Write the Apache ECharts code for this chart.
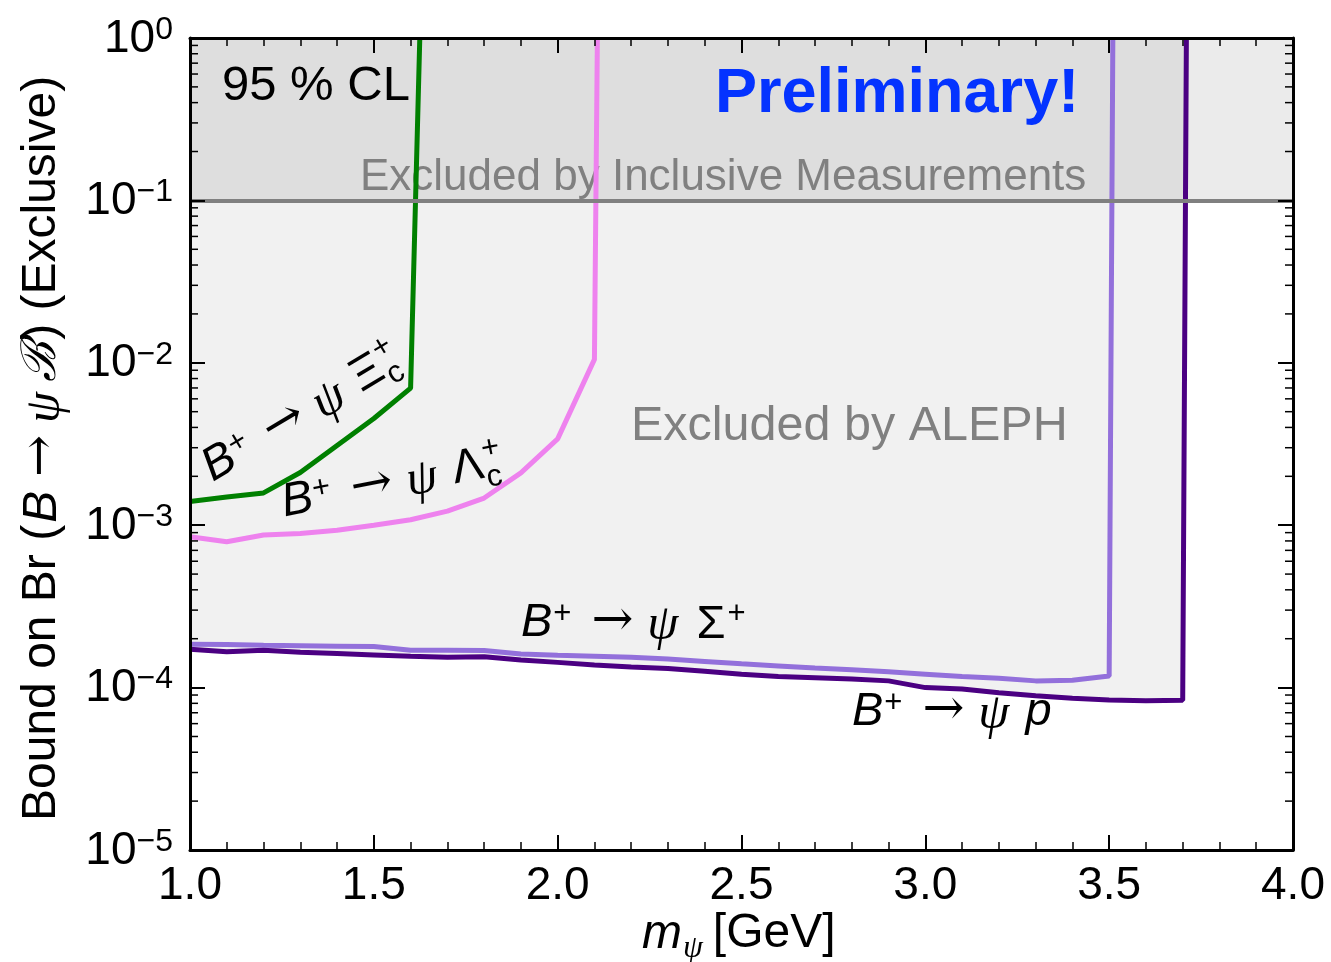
<!DOCTYPE html>
<html>
<head>
<meta charset="utf-8">
<script src="https://cdn.jsdelivr.net/npm/echarts@6/dist/echarts.min.js"></script>
<style>
  html, body { margin: 0; padding: 0; background: #ffffff; }
  #chart { width: 1331px; height: 962px; }
</style>
</head>
<body>
<div id="chart"></div>
<script>
// Exclusion bounds on Br(B+ -> psi + baryon), 95% CL, versus dark-fermion mass m_psi [GeV]

// B+ -> psi Xi_c+
const MASS_XI = [1.0, 1.1, 1.2, 1.3, 1.4, 1.5, 1.6, 1.625];
const BOUND_XI = [1.40e-3, 1.49e-3, 1.58e-3, 2.11e-3, 3.10e-3, 4.54e-3, 6.98e-3, 1.0];

// B+ -> psi Lambda_c+
const MASS_LAMBDA = [1.0, 1.1, 1.2, 1.3, 1.4, 1.5, 1.6, 1.7, 1.8, 1.9, 2.0, 2.1, 2.108];
const BOUND_LAMBDA = [8.5e-4, 7.9e-4, 8.7e-4, 8.9e-4, 9.3e-4, 1.0e-3, 1.08e-3, 1.22e-3, 1.47e-3, 2.1e-3, 3.4e-3, 1.05e-2, 1.0];

// B+ -> psi Sigma+
const MASS_SIGMA = [1.0, 1.1, 1.2, 1.3, 1.4, 1.5, 1.6, 1.7, 1.8, 1.9, 2.0, 2.1, 2.2, 2.3, 2.4, 2.5, 2.6, 2.7, 2.8, 2.9, 3.0, 3.1, 3.2, 3.3, 3.4, 3.5, 3.51];
const BOUND_SIGMA = [1.85e-4, 1.84e-4, 1.82e-4, 1.81e-4, 1.80e-4, 1.79e-4, 1.70e-4, 1.70e-4, 1.69e-4, 1.61e-4, 1.58e-4, 1.56e-4, 1.54e-4, 1.50e-4, 1.45e-4, 1.40e-4, 1.36e-4, 1.32e-4, 1.29e-4, 1.25e-4, 1.21e-4, 1.17e-4, 1.14e-4, 1.10e-4, 1.11e-4, 1.18e-4, 1.0];

// B+ -> psi p
const MASS_PROTON = [1.0, 1.1, 1.2, 1.3, 1.4, 1.5, 1.6, 1.7, 1.8, 1.9, 2.0, 2.1, 2.2, 2.3, 2.4, 2.5, 2.6, 2.7, 2.8, 2.9, 3.0, 3.1, 3.2, 3.3, 3.4, 3.5, 3.6, 3.7, 3.71];
const BOUND_PROTON = [1.72e-4, 1.66e-4, 1.70e-4, 1.65e-4, 1.62e-4, 1.59e-4, 1.56e-4, 1.54e-4, 1.55e-4, 1.48e-4, 1.43e-4, 1.38e-4, 1.34e-4, 1.31e-4, 1.26e-4, 1.21e-4, 1.17e-4, 1.15e-4, 1.13e-4, 1.10e-4, 1.00e-4, 9.8e-5, 9.3e-5, 8.9e-5, 8.6e-5, 8.4e-5, 8.3e-5, 8.35e-5, 1.0];

// inclusive-measurement limit
const INCLUSIVE_LIMIT = 0.1;

// axis ranges and ticks
const X_MIN = 1.0, X_MAX = 4.0, X_STEP = 0.5;
const Y_MIN = 1e-5, Y_MAX = 1;
const Y_DECADES = [1e-5, 1e-4, 1e-3, 1e-2, 1e-1];
const Y_MINOR_MANTISSAS = [2, 3, 4, 5, 6, 7, 8, 9];

const SANS = '"Liberation Sans", Arial, Helvetica, sans-serif';
const SERIF = '"Liberation Serif", "DejaVu Serif", serif';
const ARROW_FONT = '"DejaVu Serif", "DejaVu Sans", serif';
const BLACK = '#000000';
const GRAY = '#808080';
const SHADE = 'rgba(0,0,0,0.078)';

function pairs(xs, ys) { return xs.map((x, i) => [x, ys[i]]); }

function xAxisDef(pos, showLabel) {
  return {
    type: 'value', min: X_MIN, max: X_MAX, interval: X_STEP, position: pos, z: 5,
    axisLine: { show: true, onZero: false, lineStyle: { color: BLACK, width: 3 } },
    axisTick: { show: true, inside: true, length: 15, lineStyle: { color: BLACK, width: 2 } },
    minorTick: { show: true, splitNumber: 5, length: 8, lineStyle: { color: BLACK, width: 1.5 } },
    splitLine: { show: false },
    axisLabel: {
      show: showLabel, margin: 13, fontSize: 46, color: BLACK, fontFamily: SANS,
      formatter: v => v.toFixed(1)
    }
  };
}

function yAxisDef(pos, showLabel) {
  return {
    type: 'log', logBase: 10, min: Y_MIN, max: Y_MAX, splitNumber: 5, position: pos, z: 5,
    axisLine: { show: true, onZero: false, lineStyle: { color: BLACK, width: 3 } },
    axisTick: { show: true, inside: true, length: 15, lineStyle: { color: BLACK, width: 2 } },
    minorTick: { show: false },
    splitLine: { show: false },
    axisLabel: {
      show: showLabel, margin: 17, color: BLACK, fontFamily: SANS,
      formatter: v => {
        const e = Math.round(Math.log10(v));
        return '{b|10}{s|' + (e < 0 ? '\u2212' + (-e) : String(e)) + '}';
      },
      rich: {
        b: { fontSize: 46, fontFamily: SANS, color: BLACK, lineHeight: 48, verticalAlign: 'bottom' },
        s: { fontSize: 32, fontFamily: SANS, color: BLACK, lineHeight: 28, verticalAlign: 'top' }
      }
    }
  };
}

function curve(name, xs, ys, color) {
  return {
    name: name, type: 'line', data: pairs(xs, ys), z: 3,
    symbol: 'none', smooth: false, clip: true,
    lineStyle: { color: color, width: 5 }
  };
}

// log-axis minor ticks (2..9 within each decade) on the left and right frame
const minorTickValues = [];
Y_DECADES.forEach(d => Y_MINOR_MANTISSAS.forEach(m => minorTickValues.push([X_MIN, m * d])));

const minorTickSeries = {
  name: 'minor ticks', type: 'custom', coordinateSystem: 'cartesian2d', z: 6, silent: true,
  clip: false, data: minorTickValues,
  renderItem: function (params, api) {
    const v = api.value(1);
    const left = api.coord([X_MIN, v]);
    const right = api.coord([X_MAX, v]);
    const style = { stroke: BLACK, lineWidth: 1.5 };
    return {
      type: 'group', children: [
        { type: 'line', shape: { x1: left[0], y1: left[1], x2: left[0] + 8, y2: left[1] }, style: style },
        { type: 'line', shape: { x1: right[0], y1: right[1], x2: right[0] - 8, y2: right[1] }, style: style }
      ]
    };
  }
};

const chart = echarts.init(document.getElementById('chart'), null, { renderer: 'canvas' });

chart.setOption({
  animation: false,
  backgroundColor: '#ffffff',
  grid: { left: 190, right: 38, top: 38, bottom: 112 },
  xAxis: [xAxisDef('bottom', true), xAxisDef('top', false)],
  yAxis: [yAxisDef('left', true), yAxisDef('right', false)],
  series: [
    {
      // region excluded by ALEPH: everything above the B+ -> psi p bound
      name: 'ALEPH', type: 'line', data: pairs(MASS_PROTON, BOUND_PROTON), z: 1,
      symbol: 'none', silent: true,
      lineStyle: { width: 0, opacity: 0 },
      areaStyle: { color: SHADE, origin: 'end' },
      markArea: {
        silent: true,
        itemStyle: { color: SHADE },
        data: [[{ xAxis: X_MIN, yAxis: INCLUSIVE_LIMIT }, { xAxis: X_MAX, yAxis: Y_MAX }]]
      },
      markLine: {
        silent: true, symbol: 'none', label: { show: false },
        lineStyle: { color: GRAY, width: 4, type: 'solid' },
        data: [{ yAxis: INCLUSIVE_LIMIT }]
      }
    },
    curve('Sigma', MASS_SIGMA, BOUND_SIGMA, '#9370DB'),
    curve('proton', MASS_PROTON, BOUND_PROTON, '#4B0082'),
    curve('Lambda', MASS_LAMBDA, BOUND_LAMBDA, '#EE82EE'),
    curve('Xi', MASS_XI, BOUND_XI, '#008000'),
    minorTickSeries
  ]
});

// ---- text annotations built from styled runs (baseline-aligned) ----
const measureCtx = document.createElement('canvas').getContext('2d');
function fontString(r) {
  return (r.italic ? 'italic ' : '') + (r.bold ? 'bold ' : '') + r.size + 'px ' + r.family;
}
function textWidth(r) { measureCtx.font = fontString(r); return measureCtx.measureText(r.text).width; }

// runs: {text, size, family, italic, bold, rise, gap, stack}
function richLabel(x, y, rotDeg, runs, color, z) {
  const children = [];
  let cx = 0, lastStart = 0;
  runs.forEach(r => {
    const run = Object.assign({ family: SANS }, r);
    const start = run.stack ? lastStart : cx + (run.gap || 0);
    const w = textWidth(run);
    children.push({
      type: 'text', x: start, y: -(run.rise || 0) - 0.33 * run.size, z: z,
      style: {
        text: run.text, fill: color, font: fontString(run),
        align: 'left', verticalAlign: 'middle'
      }
    });
    if (!run.stack) { lastStart = start; cx = start + w; }
    else { cx = Math.max(cx, start + w); }
  });
  return { type: 'group', x: x, y: y, rotation: rotDeg * Math.PI / 180, z: z, children: children };
}

const BASE = 47, SUP = 31;
function decayRuns(tail) {
  return [
    { text: 'B', size: BASE, italic: true },
    { text: '+', size: SUP, rise: 13, gap: 1 },
    { text: '\u2192', size: 50, family: ARROW_FONT, gap: 20, rise: -1 },
    { text: '\u03C8', size: 50, family: SERIF, italic: true, gap: 14, rise: -4 }
  ].concat(tail);
}

chart.setOption({
  graphic: [
    richLabel(222, 103, 0, [{ text: '95 % CL', size: 49 }], BLACK, 2),
    richLabel(715, 115, 0, [{ text: 'Preliminary!', size: 63, bold: true }], '#0433FF', 2),
    richLabel(360, 192, 0, [{ text: 'Excluded by Inclusive Measurements', size: 44 }], GRAY, 2),
    richLabel(631, 443, 0, [{ text: 'Excluded by ALEPH', size: 48.5 }], GRAY, 2),
    richLabel(214, 484, 31, decayRuns([
      { text: '\u039E', size: BASE, gap: 16 },
      { text: 'c', size: SUP, rise: -9, gap: 1 },
      { text: '+', size: SUP, rise: 20, stack: true }
    ]), BLACK, 6),
    richLabel(285, 519, 11, decayRuns([
      { text: '\u039B', size: BASE, gap: 16 },
      { text: 'c', size: SUP, rise: -9, gap: 1 },
      { text: '+', size: SUP, rise: 20, stack: true }
    ]), BLACK, 6),
    richLabel(521, 638, 0, decayRuns([
      { text: '\u03A3', size: BASE, gap: 18, rise: -3 },
      { text: '+', size: SUP, rise: 13, gap: 2 }
    ]), BLACK, 6),
    richLabel(852, 727, 0, decayRuns([
      { text: 'p', size: BASE, italic: true, gap: 16 }
    ]), BLACK, 6),
    // x-axis title
    richLabel(642, 950, 0, [
      { text: 'm', size: 48, italic: true },
      { text: '\u03C8', size: 32, family: SERIF, italic: true, rise: -9, gap: 1 },
      { text: '[GeV]', size: 48, gap: 10 }
    ], BLACK, 6),
    // y-axis title
    richLabel(58, 821, 90, [
      { text: 'Bound on Br (', size: 48 },
      { text: 'B', size: 48, italic: true, gap: 2 },
      { text: '\u2192', size: 50, family: ARROW_FONT, gap: 14, rise: -1 },
      { text: '\u03C8', size: 50, family: SERIF, italic: true, gap: 12, rise: -4 },
      { text: '\u212C', size: 48, family: '"DejaVu Serif", serif', italic: true, gap: 10 },
      { text: ') (Exclusive)', size: 48, gap: 2 }
    ], BLACK, 6)
  ]
});
</script>
</body>
</html>
